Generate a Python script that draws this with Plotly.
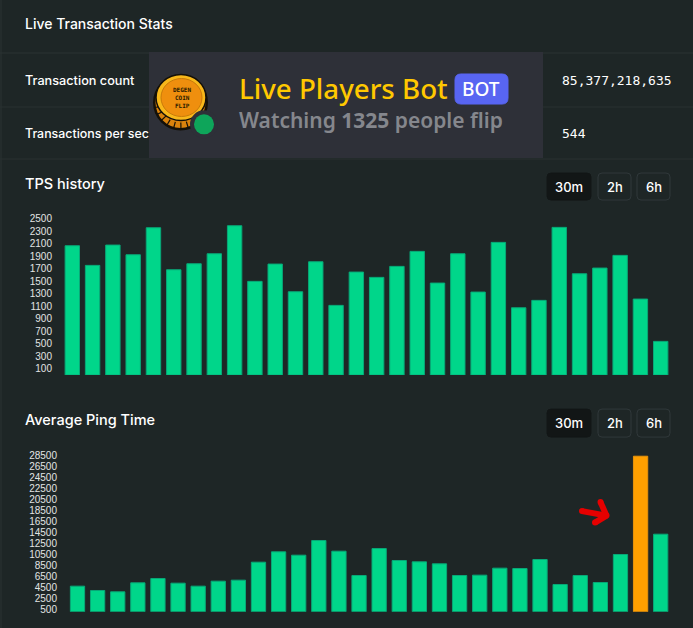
import math

import plotly.graph_objects as go
from plotly.subplots import make_subplots

W, H = 693, 628
Y_FIX = 1.005  # small correction, the picture came out about 2px short lower down

tps_values = [2069, 1755, 2080, 1925, 2357, 1685, 1781, 1941, 2389, 1499,
              1776, 1333, 1813, 1115, 1648, 1563, 1739, 1979, 1472, 1941,
              1328, 2123, 1077, 1195, 2363, 1621, 1712, 1915, 1216, 539]
tps_ticks = [100, 300, 500, 700, 900, 1100, 1300, 1500, 1700, 1900, 2100, 2300, 2500]

ping_values = [4682, 3891, 3648, 5290, 6080, 5229, 4682, 5594, 5776, 9059,
               10944, 10336, 13011, 11066, 6627, 11552, 9363, 9120, 8755, 6627,
               6688, 7965, 7904, 9546, 4986, 6627, 5350, 10458, 28394, 14166]
ping_ticks = [500, 2500, 4500, 6500, 8500, 10500, 12500, 14500, 16500, 18500,
              20500, 22500, 24500, 26500, 28500]
ping_highlight = 28

buttons = ["30m", "2h", "6h"]

BG = "#1e2626"
LINE = "#2a3232"
GREEN = "#00d68a"
GREEN_EDGE = "#08a878"
ORANGE = "#ff9f00"
ORANGE_EDGE = "#e8930c"
CARD = "#2e3038"
UI_FONT = "Inter, Roboto, sans-serif"
TICK_FONT = "Liberation Sans, Arial, sans-serif"
CARD_FONT = "Noto Sans, sans-serif"
MONO_FONT = "DejaVu Sans Mono, monospace"


def px(x):
    return x / W


def py(y):
    return 1 - y * Y_FIX / H


def rect(x0, y0, x1, y1, fill, line=None, lw=1):
    return dict(type="rect", xref="paper", yref="paper", x0=px(x0), x1=px(x1),
                y0=py(y0), y1=py(y1), fillcolor=fill,
                line=dict(color=line or fill, width=lw if line else 0))


def rounded(x0, y0, x1, y1, r, fill, line):
    X0, X1, Y0, Y1 = px(x0), px(x1), py(y0), py(y1)
    rx, ry = r / W, r / H
    path = (f"M {X0 + rx} {Y0} L {X1 - rx} {Y0} Q {X1} {Y0} {X1} {Y0 - ry} "
            f"L {X1} {Y1 + ry} Q {X1} {Y1} {X1 - rx} {Y1} "
            f"L {X0 + rx} {Y1} Q {X0} {Y1} {X0} {Y1 + ry} "
            f"L {X0} {Y0 - ry} Q {X0} {Y0} {X0 + rx} {Y0} Z")
    return dict(type="path", xref="paper", yref="paper", path=path, fillcolor=fill,
                line=dict(color=line, width=1))


def circle(cx, cy, rx, ry, fill, line=None, lw=1):
    return dict(type="circle", xref="paper", yref="paper", x0=px(cx - rx), x1=px(cx + rx),
                y0=py(cy + ry), y1=py(cy - ry), fillcolor=fill,
                line=dict(color=line or fill, width=lw if line else 0))


def stroke(x0, y0, x1, y1, color, lw):
    return dict(type="line", xref="paper", yref="paper", x0=px(x0), x1=px(x1),
                y0=py(y0), y1=py(y1), line=dict(color=color, width=lw))


def label(x, y, text, size, color="#ffffff", font=UI_FONT, weight=400, anchor="left"):
    return dict(xref="paper", yref="paper", x=px(x), y=py(y), text=text, showarrow=False,
                xanchor=anchor, yanchor="middle", align=anchor, borderpad=0, borderwidth=0,
                font=dict(size=size, color=color, family=font, weight=weight))


fig = make_subplots(rows=2, cols=1)

fig.add_trace(go.Bar(y=tps_values, marker_color=GREEN,
                     marker_line=dict(color=GREEN_EDGE, width=1),
                     width=0.71, hoverinfo="skip"), row=1, col=1)

ping_colors = [ORANGE if i == ping_highlight else GREEN for i in range(len(ping_values))]
ping_edges = [ORANGE_EDGE if i == ping_highlight else GREEN_EDGE for i in range(len(ping_values))]
fig.add_trace(go.Bar(y=ping_values, marker_color=ping_colors,
                     marker_line=dict(color=ping_edges, width=1),
                     width=0.71, hoverinfo="skip"), row=2, col=1)

# axes are placed so one category step is about 20px, as in the screenshot
fig.update_xaxes(visible=False, fixedrange=True)
fig.update_xaxes(domain=[px(60), px(673)], range=[(60 - 72.3) / 20.29, (673 - 72.3) / 20.29], row=1, col=1)
fig.update_xaxes(domain=[px(62), px(673)], range=[(62 - 77.5) / 20.11, (673 - 77.5) / 20.11], row=2, col=1)

axis_font = dict(size=10, color="#e2e4e4", family=TICK_FONT)
fig.update_yaxes(domain=[py(375), py(210)], range=[0, 165 / 0.0625], tickvals=tps_ticks, tickformat="d",
                 showgrid=False, zeroline=False, showline=False, ticks="", tickfont=axis_font,
                 ticklabelstandoff=7, fixedrange=True, row=1, col=1)
fig.update_yaxes(domain=[py(611.7), py(450)], range=[0, 161.7 / 0.005479], tickvals=ping_ticks, tickformat="d",
                 showgrid=False, zeroline=False, showline=False, ticks="", tickfont=axis_font,
                 ticklabelstandoff=4, fixedrange=True, row=2, col=1)

shapes = [
    stroke(1, 0, 1, H, LINE, 1),
    stroke(0, 53, W, 53, LINE, 1),
    stroke(0, 107, W, 107, LINE, 1),
    stroke(0, 159, W, 159, LINE, 1),
    rect(149, 52, 543, 158, CARD),
    # coin
    circle(180.5, 102.5, 27.5, 28, "#141008"),
    circle(180.5, 102.5, 25, 25.5, "#d9820d"),
]

# dark notches round the lower rim of the coin
for a in range(25, 170, 16):
    t = math.radians(a)
    shapes.append(stroke(180.5 + 20 * math.cos(t), 102.5 + 20 * math.sin(t),
                         180.5 + 26 * math.cos(t), 102.5 + 26 * math.sin(t), "#141008", 1.2))

shapes += [
    circle(181, 97.5, 25, 23, "#f8b71a", "#141008", 1.5),
    circle(181.5, 97.5, 20.5, 19, "#ef8f0e", "#c87a0a", 1),
    circle(204, 124.3, 14, 14, CARD),
    circle(204, 124.3, 10, 10, "#0ea55a"),
    # bot badge
    rounded(455, 74, 508, 104, 6, "#5865f2", "#5865f2"),
    # red arrow
    stroke(582, 511, 606.5, 515.5, "#e60000", 6),
    stroke(600.5, 502, 606.5, 515.5, "#e60000", 6),
    stroke(606.5, 515.5, 595, 522.5, "#e60000", 6),
    circle(582, 511, 3, 3, "#e60000"),
    circle(600.5, 502, 3, 3, "#e60000"),
    circle(606.5, 515.5, 3, 3, "#e60000"),
    circle(595, 522.5, 3, 3, "#e60000"),
]

annotations = [
    label(25, 23, "Live Transaction Stats", 14, weight=500),
    label(25, 80, "Transaction count", 12.7, weight=500),
    label(25, 133, "Transactions per sec", 12.4, weight=500),
    label(562, 80, "85,377,218,635", 13, font=MONO_FONT),
    label(562, 133, "544", 13, font=MONO_FONT),
    label(25, 183, "TPS history", 14.5, weight=500),
    label(25, 420, "Average Ping Time", 14.5, weight=500),
    label(239, 88, "Live Players Bot", 27.7, color="#ffc800", font=CARD_FONT, weight=500),
    label(481.5, 89, "BOT", 19, font=CARD_FONT, weight=500, anchor="center"),
    label(239, 120, "Watching <b>1325</b> people flip", 21, color="#85878d", font=CARD_FONT, weight=600),
    label(182, 89.5, "DEGEN", 6, color="#2a1a00", font=MONO_FONT, weight=700, anchor="center"),
    label(182, 97.5, "COIN", 6, color="#2a1a00", font=MONO_FONT, weight=700, anchor="center"),
    label(182, 105.5, "FLIP", 6, color="#2a1a00", font=MONO_FONT, weight=700, anchor="center"),
]

# time range buttons above each chart
for y0, y1 in [(173, 200), (409, 437)]:
    spots = [(547, 591), (598, 631), (637, 670)]
    for i, (x0, x1) in enumerate(spots):
        fill = "#121616" if i == 0 else BG
        edge = "#121616" if i == 0 else "#30383a"
        shapes.append(rounded(x0, y0, x1, y1, 4, fill, edge))
        annotations.append(label((x0 + x1) / 2, (y0 + y1) / 2, buttons[i], 13, weight=500, anchor="center"))

fig.update_layout(
    width=W, height=H,
    margin=dict(l=0, r=0, t=0, b=0),
    paper_bgcolor=BG, plot_bgcolor=BG,
    showlegend=False,
    bargap=0.29,
    shapes=shapes,
    annotations=annotations,
)

fig.write_html("out.html", config={"displayModeBar": False},
               post_script="document.body.style.margin='0';document.body.style.overflow='hidden';document.body.style.background='" + BG + "';")
